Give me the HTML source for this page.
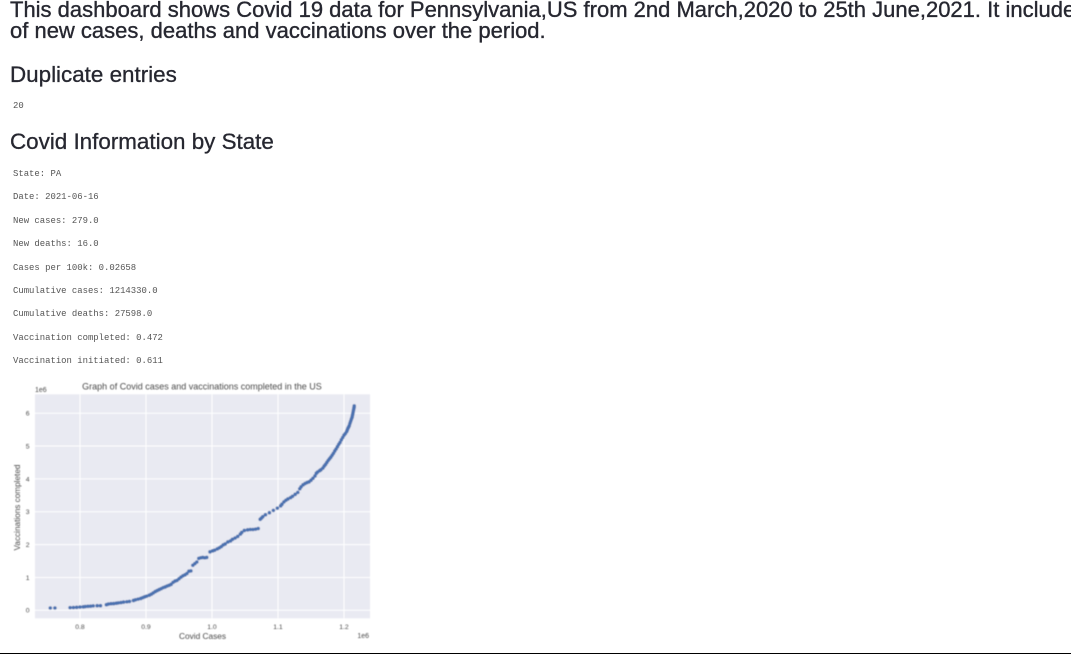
<!DOCTYPE html>
<html lang="en">
<head>
<meta charset="utf-8">
<title>Covid Dashboard</title>
<style>
html,body{margin:0;padding:0;background:#fff;width:1071px;height:654px;overflow:hidden}
body{position:relative;font-family:"Liberation Sans",sans-serif;color:#262730}
.t{position:absolute;white-space:nowrap;margin:0}
.p{font-size:22px;line-height:22px;left:10px;font-weight:400;-webkit-text-stroke:.35px #262730}
.h{font-size:22.4px;line-height:28px;left:10px;font-weight:400;-webkit-text-stroke:.3px #262730}
.c{font-family:"Liberation Mono",monospace;font-size:8.93px;line-height:12px;left:13px;color:#555}
#chart{position:absolute;left:0;top:375px}
#rule{position:absolute;left:0;top:653px;width:1071px;height:1px;background:#000}
</style>
</head>
<body>
<p class="t p" style="top:-1px;width:1061px;overflow:hidden">This dashboard shows Covid 19 data for Pennsylvania,US from 2nd March,2020 to 25th June,2021. It includes</p>
<p class="t p" style="top:20px">of new cases, deaths and vaccinations over the period.</p>
<h2 class="t h" style="top:61px">Duplicate entries</h2>
<div class="t c" style="top:100px">20</div>
<h2 class="t h" style="top:128px">Covid Information by State</h2>
<div class="t c" style="top:168px">State: PA</div>
<div class="t c" style="top:191px">Date: 2021-06-16</div>
<div class="t c" style="top:215px">New cases: 279.0</div>
<div class="t c" style="top:238px">New deaths: 16.0</div>
<div class="t c" style="top:262px">Cases per 100k: 0.02658</div>
<div class="t c" style="top:285px">Cumulative cases: 1214330.0</div>
<div class="t c" style="top:308px">Cumulative deaths: 27598.0</div>
<div class="t c" style="top:332px">Vaccination completed: 0.472</div>
<div class="t c" style="top:355px">Vaccination initiated: 0.611</div>

<svg id="chart" width="400" height="278" viewBox="0 375 400 278" xmlns="http://www.w3.org/2000/svg">
  <defs><filter id="soft" x="-5%" y="-5%" width="110%" height="110%"><feGaussianBlur stdDeviation="0.45"/></filter></defs>
  <g id="plot" filter="url(#soft)"></g>
</svg>
<div id="rule"></div>

<script>
const xTickValues = [0.8, 0.9, 1.0, 1.1, 1.2];
const xTickLabels = ["0.8", "0.9", "1.0", "1.1", "1.2"];
const yTickValues = [0, 1, 2, 3, 4, 5, 6];
const yTickLabels = ["0", "1", "2", "3", "4", "5", "6"];
const covidCases = [
0.755,0.762,0.785,0.790,0.795,0.800,0.805,0.808,0.812,0.816,0.820,0.826,0.831,0.840,0.843,0.847,0.851,0.855,0.858,0.862,0.866,0.871,0.875,0.881,0.884,0.888,0.892,0.895,0.898,0.901,0.905,0.908,0.911,0.914,0.917,0.920,0.923,0.926,0.929,0.932,0.935,0.938,0.941,0.944,0.947,0.950,0.953,0.956,0.959,0.962,0.965,0.968,0.971,0.974,0.977,0.980,0.983,0.986,0.989,0.992,0.997,1.001,1.004,1.008,1.011,1.014,1.017,1.020,1.024,1.028,1.031,1.035,1.039,1.043,1.045,1.049,1.054,1.058,1.062,1.066,1.070,1.073,1.075,1.077,1.081,1.087,1.093,1.099,1.104,1.106,1.109,1.112,1.115,1.119,1.122,1.126,1.130,1.133,1.135,1.138,1.141,1.144,1.147,1.150,1.153,1.156,1.158,1.160,1.163,1.165,1.168,1.170,1.172,1.174,1.176,1.178,1.180,1.182,1.184,1.186,1.188,1.190,1.192,1.194,1.196,1.198,1.200,1.202,1.204,1.205,1.206,1.207,1.208,1.209,1.210,1.211,1.212,1.2125,1.213,1.2135,1.214,1.2145,1.215,1.2153,1.2155
];
const vaccinationsCompleted = [
0.07,0.07,0.08,0.085,0.09,0.10,0.105,0.115,0.12,0.125,0.135,0.14,0.14,0.17,0.19,0.20,0.205,0.215,0.225,0.235,0.25,0.26,0.27,0.30,0.32,0.34,0.36,0.385,0.41,0.43,0.46,0.49,0.53,0.57,0.60,0.63,0.66,0.69,0.71,0.74,0.76,0.79,0.85,0.89,0.91,0.96,1.01,1.05,1.08,1.12,1.19,1.20,1.37,1.42,1.47,1.58,1.60,1.61,1.60,1.61,1.78,1.81,1.83,1.87,1.90,1.94,1.99,2.02,2.08,2.11,2.16,2.20,2.25,2.32,2.37,2.43,2.45,2.46,2.46,2.47,2.49,2.77,2.81,2.85,2.91,2.97,3.04,3.11,3.18,3.23,3.30,3.35,3.39,3.43,3.47,3.53,3.59,3.70,3.76,3.82,3.86,3.89,3.91,3.96,4.02,4.09,4.17,4.21,4.25,4.28,4.33,4.39,4.44,4.50,4.56,4.61,4.66,4.72,4.78,4.85,4.91,4.98,5.05,5.11,5.19,5.26,5.33,5.38,5.44,5.49,5.54,5.58,5.62,5.69,5.75,5.81,5.86,5.90,5.95,6.00,6.05,6.10,6.15,6.18,6.22
];

const plotLeft = 35, plotRight = 370, plotTop = 394.3, plotBottom = 618.3;
function xScale(v){ return 80 + (v - 0.8) * 660; }
function yScale(v){ return 610.3 - v * 32.85; }

const plot = document.getElementById('plot');
const NS = 'http://www.w3.org/2000/svg';
function make(tag, attrs, text){
  const el = document.createElementNS(NS, tag);
  for (const k in attrs) el.setAttribute(k, attrs[k]);
  if (text !== undefined) el.textContent = text;
  plot.appendChild(el);
  return el;
}
const labelStyle = {'font-family':'"Liberation Sans",sans-serif', fill:'#4a4a4a'};

const bg = make('rect', {x:plotLeft, y:plotTop, width:plotRight-plotLeft, height:plotBottom-plotTop, fill:'#e9eaf2'});



xTickValues.forEach(function(v, i){
  const g = make('line', {x1:xScale(v), x2:xScale(v), y1:plotTop, y2:plotBottom, stroke:'#fff', 'stroke-width':1});
  
  
  const t = make('text', Object.assign({x:xScale(v), y:629, 'font-size':6.8, 'text-anchor':'middle'}, labelStyle), xTickLabels[i]);
  
  
});
yTickValues.forEach(function(v, i){
  const g = make('line', {x1:plotLeft, x2:plotRight, y1:yScale(v), y2:yScale(v), stroke:'#fff', 'stroke-width':1});
  
  
  const t = make('text', Object.assign({x:29.5, y:yScale(v)+2.4, 'font-size':6.8, 'text-anchor':'end'}, labelStyle), yTickLabels[i]);
  
  
});
covidCases.forEach(function(c, i){
  const p = make('circle', {cx:xScale(c), cy:yScale(vaccinationsCompleted[i]), r:1.8, fill:'#4c72b0'});
  
  
});

const title = make('text', Object.assign({x:202, y:389.5, 'font-size':9, 'text-anchor':'middle'}, labelStyle), 'Graph of Covid cases and vaccinations completed in the US');


const xTitle = make('text', Object.assign({x:202.5, y:639, 'font-size':8.3, 'text-anchor':'middle'}, labelStyle), 'Covid Cases');


const yTitle = make('text', Object.assign({x:0, y:0, 'font-size':8.2, 'text-anchor':'middle', transform:'translate(20 507.5) rotate(-90)'}, labelStyle), 'Vaccinations completed');


const yOffset = make('text', Object.assign({x:35, y:392, 'font-size':7}, labelStyle), '1e6');


const xOffset = make('text', Object.assign({x:369, y:638, 'font-size':7, 'text-anchor':'end'}, labelStyle), '1e6');


</script>
</body>
</html>
